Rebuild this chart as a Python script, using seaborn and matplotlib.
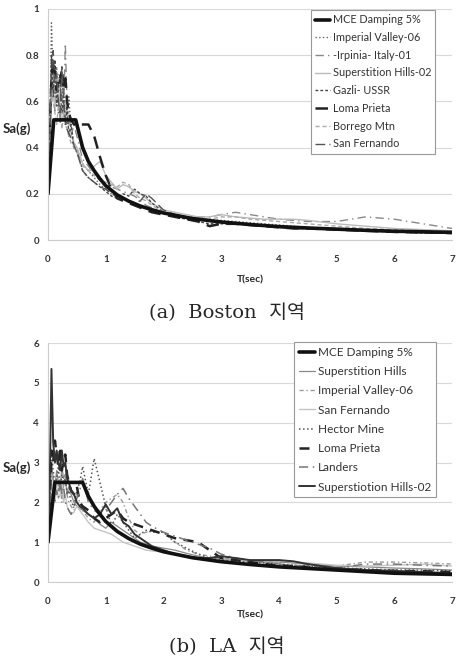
import matplotlib
matplotlib.use("Agg")
import matplotlib.pyplot as plt
import seaborn as sns

# Period grid used by the record spectra (sec)
T = [0, 0.03, 0.06, 0.09, 0.12, 0.15, 0.18, 0.21, 0.24, 0.27, 0.3, 0.33, 0.36, 0.4,
     0.45, 0.5, 0.55, 0.6, 0.7, 0.8, 0.9, 1.0, 1.1, 1.2, 1.3, 1.4, 1.5, 1.6, 1.7,
     1.8, 2.0, 2.2, 2.4, 2.6, 2.8, 3.0, 3.25, 3.5, 3.75, 4.0, 4.25, 4.5, 5.0, 5.5,
     6.0, 6.5, 7.0]

# ---- (a) Boston ----
bos_mce_T = [0, 0.1, 0.48, 0.55, 0.6, 0.7, 0.8, 0.9, 1.0, 1.2, 1.4, 1.6, 1.8, 2.0,
             2.5, 3.0, 3.5, 4.0, 4.5, 5.0, 5.5, 6.0, 7.0]
bos_mce = [0.2, 0.52, 0.52, 0.45, 0.40, 0.34, 0.30, 0.265, 0.235, 0.195, 0.168, 0.147,
           0.131, 0.117, 0.093, 0.078, 0.067, 0.058, 0.052, 0.047, 0.042, 0.038, 0.033]
bos_imperial = [0.22, 0.45, 0.94, 0.70, 0.62, 0.75, 0.55, 0.66, 0.60, 0.70, 0.58, 0.50,
                0.62, 0.48, 0.42, 0.40, 0.36, 0.33, 0.30, 0.27, 0.24, 0.22, 0.20, 0.19,
                0.18, 0.17, 0.16, 0.15, 0.14, 0.13, 0.12, 0.11, 0.10, 0.095, 0.09, 0.085,
                0.08, 0.075, 0.07, 0.065, 0.06, 0.055, 0.05, 0.045, 0.04, 0.035, 0.03]
bos_irpinia = [0.2, 0.35, 0.60, 0.75, 0.55, 0.68, 0.72, 0.50, 0.62, 0.55, 0.85, 0.60,
               0.55, 0.45, 0.50, 0.45, 0.40, 0.35, 0.32, 0.28, 0.26, 0.24, 0.23, 0.22,
               0.21, 0.20, 0.19, 0.17, 0.15, 0.14, 0.12, 0.11, 0.10, 0.10, 0.10, 0.11,
               0.12, 0.11, 0.10, 0.09, 0.085, 0.08, 0.08, 0.10, 0.09, 0.07, 0.05]
bos_superstition = [0.2, 0.4, 0.78, 0.65, 0.58, 0.62, 0.70, 0.55, 0.58, 0.52, 0.60, 0.55,
                    0.48, 0.45, 0.42, 0.40, 0.37, 0.33, 0.30, 0.32, 0.34, 0.28, 0.25, 0.22,
                    0.24, 0.23, 0.21, 0.20, 0.18, 0.16, 0.13, 0.12, 0.11, 0.10, 0.10, 0.11,
                    0.10, 0.095, 0.09, 0.09, 0.09, 0.085, 0.07, 0.06, 0.05, 0.045, 0.04]
bos_gazli = [0.2, 0.5, 0.80, 0.62, 0.78, 0.58, 0.65, 0.72, 0.55, 0.62, 0.50, 0.58, 0.45,
             0.50, 0.40, 0.38, 0.35, 0.30, 0.27, 0.25, 0.23, 0.21, 0.19, 0.18, 0.20, 0.19,
             0.22, 0.20, 0.19, 0.16, 0.12, 0.10, 0.09, 0.08, 0.07, 0.07, 0.07, 0.065,
             0.06, 0.055, 0.05, 0.05, 0.045, 0.04, 0.035, 0.03, 0.03]
bos_loma = [0.2, 0.45, 0.70, 0.78, 0.72, 0.65, 0.70, 0.68, 0.74, 0.66, 0.70, 0.60, 0.55,
            0.52, 0.50, 0.51, 0.50, 0.50, 0.50, 0.45, 0.36, 0.28, 0.22, 0.18, 0.17, 0.16,
            0.15, 0.14, 0.13, 0.12, 0.11, 0.10, 0.09, 0.08, 0.06, 0.07, 0.07, 0.065,
            0.06, 0.055, 0.05, 0.05, 0.045, 0.04, 0.035, 0.033, 0.03]
bos_borrego = [0.2, 0.4, 0.65, 0.60, 0.55, 0.50, 0.58, 0.62, 0.48, 0.55, 0.50, 0.48,
               0.45, 0.42, 0.40, 0.38, 0.35, 0.32, 0.30, 0.28, 0.26, 0.25, 0.24, 0.23,
               0.25, 0.24, 0.20, 0.18, 0.17, 0.15, 0.12, 0.11, 0.10, 0.09, 0.09, 0.10,
               0.10, 0.09, 0.085, 0.08, 0.075, 0.07, 0.06, 0.05, 0.045, 0.04, 0.035]
bos_sanfernando = [0.2, 0.42, 0.72, 0.82, 0.68, 0.72, 0.60, 0.55, 0.75, 0.60, 0.52, 0.48,
                   0.46, 0.44, 0.41, 0.38, 0.34, 0.30, 0.27, 0.25, 0.23, 0.22, 0.20, 0.19,
                   0.18, 0.17, 0.16, 0.17, 0.20, 0.18, 0.13, 0.11, 0.10, 0.09, 0.08, 0.075,
                   0.07, 0.065, 0.06, 0.055, 0.05, 0.048, 0.045, 0.04, 0.035, 0.032, 0.03]

# ---- (b) LA ----
la_mce_T = [0, 0.12, 0.6, 0.7, 0.8, 0.9, 1.0, 1.2, 1.4, 1.6, 1.8, 2.0, 2.5, 3.0, 3.5,
            4.0, 4.5, 5.0, 5.5, 6.0, 7.0]
la_mce = [1.0, 2.5, 2.5, 2.15, 1.9, 1.7, 1.52, 1.27, 1.09, 0.95, 0.85, 0.76, 0.61, 0.51,
          0.44, 0.38, 0.34, 0.30, 0.26, 0.22, 0.19]
la_superstition = [1.0, 1.8, 3.0, 2.6, 2.4, 2.8, 2.5, 2.3, 2.9, 2.6, 2.7, 2.2, 2.4, 2.2,
                   2.0, 1.9, 1.85, 1.8, 1.7, 1.6, 1.45, 1.35, 1.5, 1.4, 1.3, 1.2, 1.1,
                   1.0, 0.95, 0.9, 0.85, 0.8, 0.72, 0.65, 0.6, 0.58, 0.55, 0.52, 0.5,
                   0.5, 0.48, 0.45, 0.4, 0.38, 0.35, 0.33, 0.3]
la_imperial = [1.0, 1.5, 2.8, 2.5, 2.2, 2.6, 2.3, 2.5, 2.0, 2.4, 2.7, 2.2, 2.0, 1.9,
               1.8, 2.2, 2.0, 1.8, 1.6, 1.5, 1.8, 2.0, 2.1, 2.2, 2.0, 1.6, 1.3, 1.2,
               1.25, 1.28, 1.25, 1.0, 0.8, 0.7, 0.65, 0.6, 0.58, 0.55, 0.5, 0.5, 0.48,
               0.45, 0.4, 0.5, 0.5, 0.48, 0.45]
la_sanfernando = [1.0, 1.6, 2.6, 2.2, 2.0, 2.4, 2.1, 2.2, 2.5, 2.0, 2.2, 1.9, 1.8, 1.7,
                  1.75, 1.9, 1.8, 1.7, 1.5, 1.35, 1.3, 1.25, 1.2, 1.1, 1.0, 0.95, 0.9,
                  0.85, 0.8, 0.78, 0.75, 0.7, 0.65, 0.6, 0.58, 0.55, 0.55, 0.55, 0.55,
                  0.55, 0.5, 0.48, 0.42, 0.4, 0.42, 0.45, 0.4]
la_hector = [1.0, 1.8, 3.2, 2.8, 2.4, 2.6, 2.9, 2.3, 2.7, 2.5, 2.6, 2.2, 2.3, 2.0, 1.9,
             2.3, 2.5, 2.9, 2.2, 3.1, 2.5, 1.9, 1.4, 1.7, 1.5, 1.3, 1.1, 1.2, 1.3, 1.25,
             1.25, 1.0, 0.85, 0.7, 0.6, 0.55, 0.52, 0.5, 0.48, 0.45, 0.42, 0.4, 0.35,
             0.33, 0.3, 0.3, 0.28]
la_loma = [1.0, 2.0, 3.3, 3.0, 3.55, 3.2, 2.9, 3.4, 2.8, 3.1, 3.2, 2.7, 2.5, 2.3, 2.2,
           2.4, 2.0, 1.9, 1.8, 1.6, 1.5, 1.6, 1.7, 1.8, 1.6, 1.5, 1.45, 1.4, 1.35, 1.3,
           1.2, 1.1, 1.05, 1.0, 0.8, 0.6, 0.55, 0.5, 0.45, 0.42, 0.4, 0.38, 0.33, 0.3,
           0.28, 0.27, 0.25]
la_landers = [1.0, 1.4, 2.4, 2.2, 2.0, 2.3, 2.1, 2.6, 2.2, 2.4, 2.0, 1.9, 1.8, 1.7,
              1.9, 2.1, 2.3, 2.6, 2.0, 1.8, 1.7, 1.8, 2.0, 2.2, 2.35, 2.1, 1.9, 1.7,
              1.5, 1.4, 1.25, 1.15, 1.05, 0.95, 0.85, 0.7, 0.6, 0.55, 0.5, 0.45, 0.42,
              0.4, 0.35, 0.45, 0.45, 0.42, 0.4]
la_superstition02 = [1.0, 2.5, 5.35, 3.5, 3.0, 3.3, 3.0, 2.8, 3.3, 2.9, 3.0, 2.6, 2.5,
                     2.3, 2.2, 2.0, 1.9, 1.85, 1.7, 1.6, 1.7, 1.95, 1.7, 1.85, 1.5, 1.4,
                     1.2, 1.1, 1.0, 0.9, 0.8, 0.7, 0.65, 0.6, 0.6, 0.65, 0.6, 0.55, 0.55,
                     0.55, 0.52, 0.45, 0.35, 0.3, 0.28, 0.25, 0.22]

sns.set_style("white")
plt.rcParams['font.family'] = ['Lato', 'DejaVu Sans']

fig = plt.figure(figsize=(4.6, 6.6), dpi=100)
ax1 = fig.add_axes([48/460, 1 - 240/660, 404/460, 231/660])
ax2 = fig.add_axes([48/460, 1 - 582/660, 404/460, 239/660])

# (T, values, label, color, linestyle, linewidth)
bos_series = [
    (bos_mce_T, bos_mce, 'MCE Damping 5%', '#111111', '-', 2.6),
    (T, bos_imperial, 'Imperial Valley-06', '#666666', ':', 1.0),
    (T, bos_irpinia, '-Irpinia- Italy-01', '#888888', (0, (6, 3, 1, 3)), 1.0),
    (T, bos_superstition, 'Superstition Hills-02', '#bbbbbb', '-', 1.0),
    (T, bos_gazli, 'Gazli- USSR', '#444444', (0, (2, 1.5)), 1.0),
    (T, bos_loma, 'Loma Prieta', '#222222', (0, (5, 3)), 1.8),
    (T, bos_borrego, 'Borrego Mtn', '#aaaaaa', (0, (3, 2)), 1.0),
    (T, bos_sanfernando, 'San Fernando', '#555555', (0, (7, 3)), 1.0),
]
la_series = [
    (la_mce_T, la_mce, 'MCE Damping 5%', '#111111', '-', 2.6),
    (T, la_superstition, 'Superstition Hills', '#888888', '-', 0.9),
    (T, la_imperial, 'Imperial Valley-06', '#999999', (0, (3, 2, 1, 2)), 1.0),
    (T, la_sanfernando, 'San Fernando', '#c4c4c4', '-', 1.0),
    (T, la_hector, 'Hector Mine', '#555555', ':', 1.1),
    (T, la_loma, 'Loma Prieta', '#222222', (0, (4, 3)), 1.8),
    (T, la_landers, 'Landers', '#777777', (0, (6, 3, 1, 3)), 1.1),
    (T, la_superstition02, 'Superstiotion Hills-02', '#333333', '-', 1.4),
]


def draw(ax, series, ymax, legend_bbox, leg_fs, leg_space, xlab_pad):
    # draw records first, MCE on top
    for tt, vv, lab, col, ls, lw in series[1:] + series[:1]:
        sns.lineplot(x=tt, y=vv, ax=ax, color=col, linestyle=ls, linewidth=lw,
                     label=lab, sort=False, estimator=None)
    ax.set_xlim(0, 7)
    ax.set_ylim(0, ymax)
    ax.set_xticks(range(0, 8))
    ax.grid(axis='y', color='#d9d9d9', linewidth=0.8)
    ax.set_axisbelow(True)
    for s in ['top', 'right']:
        ax.spines[s].set_visible(False)
    for s in ['left', 'bottom']:
        ax.spines[s].set_color('#cccccc')
        ax.spines[s].set_linewidth(0.8)
    ax.tick_params(axis='both', length=3, color='#cccccc', labelsize=7)
    ax.tick_params(axis='x', pad=8)
    ax.set_xlabel('T(sec)', fontsize=7.5, fontweight='bold', labelpad=xlab_pad)
    ax.set_ylabel('')
    ax.text(-0.077, 0.48, 'Sa(g)', transform=ax.transAxes, fontsize=9.5,
            fontweight='bold', ha='center', va='center')
    handles, labels = ax.get_legend_handles_labels()
    order = [len(handles) - 1] + list(range(len(handles) - 1))
    leg = ax.legend([handles[i] for i in order], [labels[i] for i in order],
                    loc='upper left', bbox_to_anchor=legend_bbox,
                    bbox_transform=fig.transFigure, fontsize=leg_fs,
                    handlelength=1.4, handletextpad=0.2, labelspacing=leg_space,
                    borderpad=0.4, fancybox=False, framealpha=1, borderaxespad=0)
    leg.get_frame().set_edgecolor('#999999')
    leg.get_frame().set_linewidth(0.8)
    for t in leg.get_texts():
        t.set_color('#333333')


draw(ax1, bos_series, 1, (311/460, 1 - 10/660), 7.8, 0.62, 8)
ax1.set_yticks([0, 0.2, 0.4, 0.6, 0.8, 1])
ax1.set_yticklabels(['0', '0.2', '0.4', '0.6', '0.8', '1'])

draw(ax2, la_series, 6, (294/460, 1 - 342/660), 8.5, 0.7, 3)
ax2.set_yticks(range(0, 7))
ax2.set_yticklabels([str(i) for i in range(0, 7)])

for ax in (ax1, ax2):
    for t in ax.get_xticklabels() + ax.get_yticklabels():
        t.set_fontweight('bold')
        t.set_color('#333333')

cap_font = ['DejaVu Serif', 'Noto Sans CJK KR']
fig.text(227/460, 1 - 313/660, '(a)  Boston  지역', ha='center', va='center',
         fontsize=14, family=cap_font)
fig.text(227/460, 1 - 647/660, '(b)  LA  지역', ha='center', va='center',
         fontsize=14, family=cap_font)

fig.savefig('out.png', dpi=100)
